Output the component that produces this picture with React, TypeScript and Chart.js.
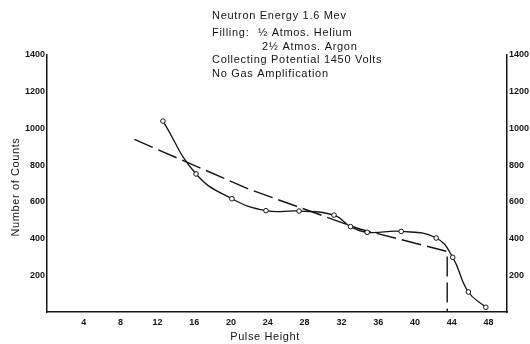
import React, { useEffect, useRef } from "react";
import { Chart, registerables } from "chart.js";

Chart.register(...registerables);

// Pulse height (x) and number of counts (y) for the measured points
const PULSE_HEIGHT = [12.6, 16.2, 20.1, 23.8, 27.4, 31.2, 33.0, 34.8, 38.5, 42.3, 44.1, 45.8, 47.7];
const COUNTS = [1040, 752, 617, 552, 550, 528, 465, 434, 439, 403, 298, 109, 26];

// Dashed estimate line
const TREND_X = [9.5, 22, 34, 43.5, 43.5];
const TREND_Y = [940, 668, 452, 330, 0];

const X_TICKS = [4, 8, 12, 16, 20, 24, 28, 32, 36, 40, 44, 48];
const Y_TICKS = [200, 400, 600, 800, 1000, 1200, 1400];

const HEADER_LINES = [
  "Neutron Energy 1.6 Mev",
  "Filling:",
  "\u00bd Atmos. Helium",
  "2\u00bd Atmos. Argon",
  "Collecting Potential 1450 Volts",
  "No Gas Amplification",
];
const X_TITLE = "Pulse Height";
const Y_TITLE = "Number of Counts";

const INK = "#151515";

export default function App() {
  const ref = useRef<HTMLCanvasElement | null>(null);

  useEffect(() => {
    const canvas = ref.current;
    if (!canvas) return;

    const textPlugin = {
      id: "texts",
      afterDraw(chart: any) {
        const ctx = chart.ctx;
        ctx.save();
        ctx.fillStyle = INK;
        ctx.textBaseline = "middle";
        ctx.textAlign = "left";
        ctx.font = "11px 'Liberation Sans', sans-serif";
        try { (ctx as any).letterSpacing = "0.7px"; } catch (e) {}
        ctx.fillText(HEADER_LINES[0], 212, 16);
        ctx.fillText(HEADER_LINES[1], 212, 33);
        ctx.fillText(HEADER_LINES[2], 258, 33);
        ctx.fillText(HEADER_LINES[3], 262, 47);
        ctx.fillText(HEADER_LINES[4], 212, 60);
        ctx.fillText(HEADER_LINES[5], 212, 74);
        try { (ctx as any).letterSpacing = "0.6px"; } catch (e) {}
        ctx.textAlign = "center";
        ctx.fillText(X_TITLE, 265, 337);
        ctx.translate(16, 187);
        ctx.rotate(-Math.PI / 2);
        ctx.fillText(Y_TITLE, 0, 0);
        ctx.restore();
      },
    };

    const tickFont = { family: "'Liberation Sans', sans-serif", size: 9, weight: "bold" as const };
    const plain = (v: any) => String(v);

    const yScaleBase = (width: number, position: "left" | "right") => ({
      type: "linear" as const,
      position,
      min: 0,
      max: 1400,
      grid: { display: false, drawTicks: false },
      border: { display: true, color: INK, width: 1.5 },
      ticks: { font: tickFont, color: INK, padding: 2, callback: plain },
      afterBuildTicks: (s: any) => {
        s.ticks = Y_TICKS.map((v) => ({ value: v }));
      },
      afterFit: (s: any) => {
        s.width = width;
        s.paddingTop = 0;
        s.paddingBottom = 0;
      },
    });

    const chart = new Chart(canvas, {
      type: "scatter",
      data: {
        datasets: [
          {
            label: "Counts",
            data: PULSE_HEIGHT.map((x, i) => ({ x, y: COUNTS[i] })),
            showLine: true,
            borderColor: INK,
            borderWidth: 1.3,
            tension: 0.45,
            pointRadius: 2.3,
            pointBackgroundColor: "#ffffff",
            pointBorderColor: INK,
            pointBorderWidth: 1,
            yAxisID: "y",
          },
          {
            label: "Trend",
            data: TREND_X.map((x, i) => ({ x, y: TREND_Y[i] })),
            showLine: true,
            borderColor: INK,
            borderWidth: 1.4,
            borderDash: [20, 6],
            tension: 0,
            pointRadius: 0,
            yAxisID: "y",
          },
        ],
      },
      options: {
        animation: false,
        responsive: false,
        layout: { padding: { top: 55, left: 0, right: 0, bottom: 0 } },
        plugins: {
          legend: { display: false },
          tooltip: { enabled: false },
          title: { display: false },
        },
        scales: {
          x: {
            type: "linear",
            position: "bottom",
            min: 0,
            max: 50,
            grid: { display: false, drawTicks: false },
            border: { display: true, color: INK, width: 1.5 },
            ticks: { font: tickFont, color: INK, padding: 5, callback: plain },
            afterBuildTicks: (s: any) => {
              s.ticks = X_TICKS.map((v) => ({ value: v }));
            },
            afterFit: (s: any) => {
              s.height = 32;
              s.paddingLeft = 0;
              s.paddingRight = 0;
            },
          },
          y: yScaleBase(47, "left"),
          y2: yScaleBase(23, "right"),
        },
      },
      plugins: [textPlugin],
    });

    return () => chart.destroy();
  }, []);

  return (
    <div style={{ position: "absolute", left: 0, top: 0, width: 530, height: 344, background: "#fff" }}>
      <canvas ref={ref} width={530} height={344} style={{ display: "block" }} />
    </div>
  );
}
